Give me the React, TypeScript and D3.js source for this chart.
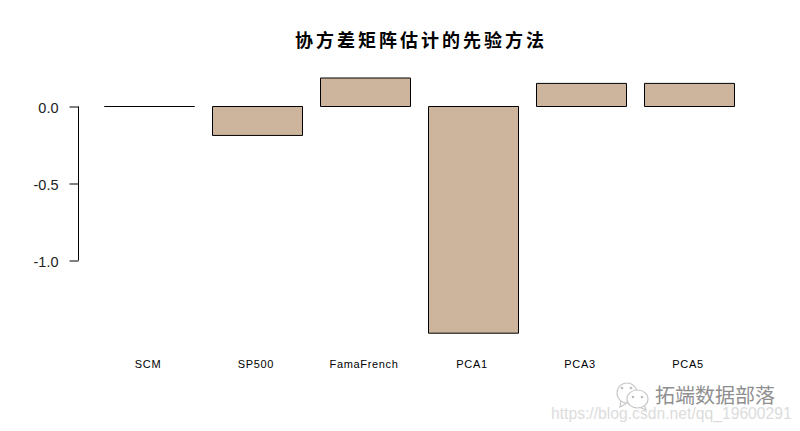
import React, { useRef, useEffect } from 'react';
import * as d3 from 'd3';

const categories = ['SCM', 'SP500', 'FamaFrench', 'PCA1', 'PCA3', 'PCA5'];
const values = [0, -0.188, 0.185, -1.472, 0.15, 0.15];
const yTicks = [0, -0.5, -1.0];
const title = '协方差矩阵估计的先验方法';
const watermark = '拓端数据部落';
const watermarkUrl = 'https://blog.csdn.net/qq_19600291';

const App: React.FC = () => {
  const svgRef = useRef<SVGSVGElement>(null);

  useEffect(() => {
    if (!svgRef.current) return;
    const svg = d3.select(svgRef.current);
    svg.selectAll('*').remove();

    const x = d3.scaleBand<string>()
      .domain(categories)
      .range([95.5, 743.5])
      .paddingInner(1 / 6)
      .paddingOuter(1 / 12);

    const y = d3.scaleLinear().domain([0, -1]).range([106.5, 260.5]);

    svg.append('rect').attr('width', 800).attr('height', 431).attr('fill', '#fff');

    svg.append('text')
      .attr('x', 421)
      .attr('y', 47)
      .attr('text-anchor', 'middle')
      .style('font-family', '"Noto Sans CJK SC"')
      .style('font-size', '18px')
      .style('font-weight', 700)
      .style('letter-spacing', '3px')
      .attr('fill', '#000')
      .text(title);

    // y axis
    const axis = svg.append('g').attr('transform', 'translate(78.5,0)')
      .call(d3.axisLeft(y).tickValues(yTicks).tickSize(9).tickPadding(11).tickSizeOuter(0)
        .tickFormat(d => (d as number).toFixed(1)));
    axis.select('path.domain').attr('stroke', '#000').attr('d', `M0,${y(0)}V${y(-1)}`);
    axis.selectAll('line').attr('stroke', '#000');
    axis.selectAll('text')
      .attr('fill', '#222')
      .attr('dy', '0.42em')
      .style('font-family', '"Liberation Sans"')
      .style('font-size', '14.5px')
      .style('font-weight', 300);

    // bars, as paths so the zero value still shows as a line
    const barPath = (d: number, i: number) => {
      const p = d3.path();
      p.rect(x(categories[i]) as number, y(Math.max(d, 0)), x.bandwidth(), Math.abs(y(d) - y(0)));
      return p.toString();
    };
    svg.append('g').selectAll('path')
      .data(values)
      .join('path')
      .attr('d', (d, i) => barPath(d, i))
      .attr('fill', '#cdb59d')
      .attr('stroke', '#000')
      .attr('stroke-width', 1);

    // category labels
    svg.append('g').selectAll('text')
      .data(categories)
      .join('text')
      .attr('x', d => (x(d) as number) + x.bandwidth() / 2 - 1.5)
      .attr('y', 368)
      .attr('text-anchor', 'middle')
      .style('font-family', '"Liberation Sans"')
      .style('font-size', '11px')
      .style('letter-spacing', '0.65px')
      .attr('fill', '#000')
      .text(d => d);

    // watermark
    const icon = svg.append('g').attr('fill', '#fff').attr('stroke', '#c8c8c8').attr('stroke-width', 1.2);
    icon.append('path').attr('d', 'M621,400L620,407L627,403');
    icon.append('ellipse').attr('cx', 627).attr('cy', 393).attr('rx', 10).attr('ry', 10);
    icon.append('path').attr('d', 'M644,404L646,410L639,407');
    icon.append('ellipse').attr('cx', 637.5).attr('cy', 399).attr('rx', 10.5).attr('ry', 9);
    const eyes = svg.append('g').attr('fill', '#bbb');
    [[622, 388], [631, 388], [633, 397], [642, 397]].forEach(([cx, cy]) => {
      eyes.append('circle').attr('cx', cx).attr('cy', cy).attr('r', 1.3);
    });

    svg.append('text')
      .attr('x', 655)
      .attr('y', 403)
      .style('font-family', '"Noto Sans CJK SC"')
      .style('font-size', '20px')
      .attr('fill', '#8f8f8f')
      .text(watermark);

    svg.append('text')
      .attr('x', 551)
      .attr('y', 419)
      .style('font-family', '"Liberation Sans"')
      .style('font-size', '15.7px')
      .attr('fill', '#dcdcdc')
      .text(watermarkUrl);
  }, []);

  return <svg ref={svgRef} width={800} height={431} style={{ position: 'absolute', left: 0, top: 0 }}></svg>;
};

export default App;
